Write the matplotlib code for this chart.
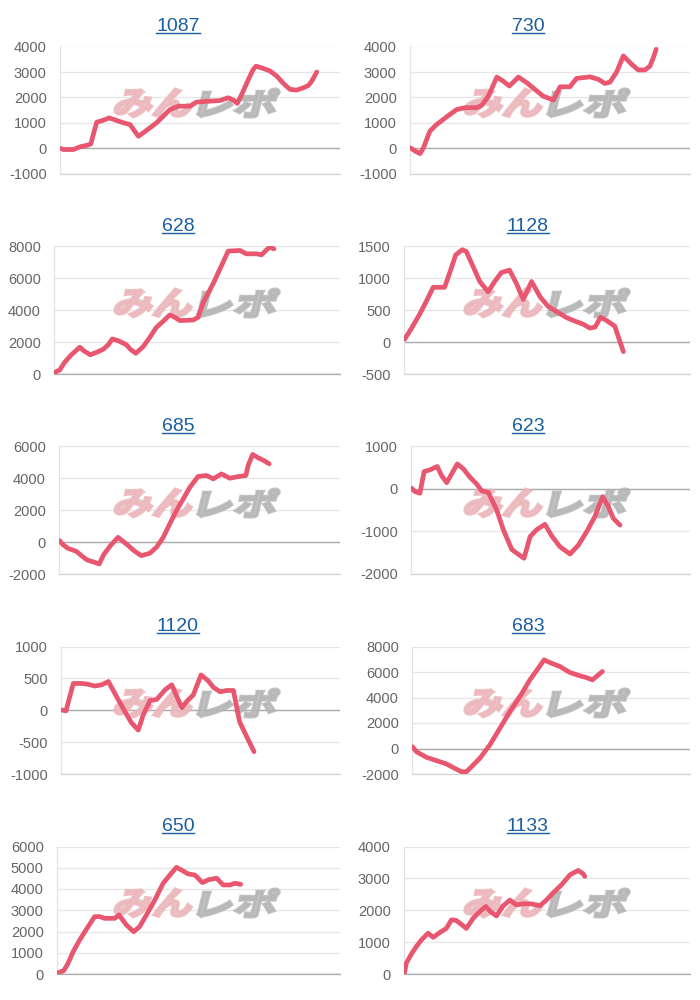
import matplotlib
matplotlib.use('Agg')
import matplotlib.pyplot as plt
from matplotlib.textpath import TextPath
from matplotlib.font_manager import FontProperties
from matplotlib.patches import PathPatch
from matplotlib.transforms import Affine2D
from matplotlib.lines import Line2D

plt.rcParams['font.family'] = ['Liberation Sans', 'DejaVu Sans']
plt.rcParams['axes.unicode_minus'] = False

# chart titles (machine numbers)
titles = ['1087', '730', '628', '1128', '685', '623', '1120', '683', '650', '1133']

# progress along x (0-100) and balance values
x_1087 = [0.2, 1.2, 4.8, 7.1, 9.8, 11.0, 11.9, 13.1, 15.5, 17.6, 20.2, 22.6, 25.0, 26.2, 28.0, 29.8, 32.1,
          34.5, 36.9, 39.3, 42.3, 46.4, 48.8, 52.4, 57.1, 60.1, 61.9, 63.3, 64.9, 67.3, 69.0, 70.0, 72.6,
          75.0, 77.4, 79.8, 82.1, 84.5, 86.9, 88.7, 89.9, 91.7]
y_1087 = [0, -40, -40, 65, 130, 180, 550, 1030, 1110, 1200, 1100, 1010, 940, 750, 480, 620, 810,
          1010, 1270, 1530, 1660, 1660, 1820, 1850, 1880, 1990, 1900, 1770, 2120, 2710, 3100, 3230, 3140,
          3040, 2840, 2550, 2320, 2290, 2380, 2470, 2640, 3000]

x_730 = [0.2, 1.8, 3.6, 4.8, 7.1, 9.5, 11.9, 14.3, 16.7, 19.6, 23.8, 25.6, 28.0, 31.0, 33.3, 35.5, 38.7,
         41.7, 44.6, 47.6, 51.2, 53.6, 57.1, 59.5, 64.3, 67.3, 69.6, 71.4, 73.8, 76.2, 79.2, 81.5, 83.9,
         85.7, 86.9, 87.9]
y_730 = [25, -100, -200, 25, 680, 940, 1140, 1340, 1530, 1600, 1600, 1690, 2050, 2800, 2640, 2450, 2800,
         2580, 2320, 2050, 1900, 2420, 2420, 2750, 2810, 2710, 2550, 2600, 3000, 3630, 3300, 3080, 3080,
         3230, 3560, 3890]

x_628 = [0.2, 2.0, 3.7, 6.1, 9.0, 10.7, 12.7, 14.9, 17.2, 19.0, 20.4, 22.4, 25.3, 26.7, 28.6, 31.2, 33.5,
         35.8, 38.2, 40.5, 42.2, 44.0, 48.7, 50.4, 52.2, 55.6, 58.6, 60.9, 65.0, 67.3, 70.8, 72.6, 74.3,
         75.5, 76.9]
y_628 = [100, 250, 730, 1210, 1680, 1420, 1210, 1360, 1550, 1840, 2200, 2090, 1840, 1550, 1300, 1720, 2300,
         2930, 3310, 3710, 3560, 3350, 3390, 3560, 4500, 5650, 6810, 7710, 7750, 7540, 7540, 7480, 7790,
         7960, 7850]

x_1128 = [0.2, 2.6, 5.5, 7.8, 10.2, 11.9, 14.2, 16.0, 18.1, 20.4, 21.8, 24.1, 26.5, 29.4, 31.7, 34.0, 36.9,
          39.3, 41.7, 44.6, 47.6, 50.4, 53.3, 56.8, 60.3, 62.7, 65.0, 66.8, 68.7, 70.8, 73.7, 75.3, 76.7]
y_1128 = [45, 215, 440, 640, 860, 860, 860, 1090, 1370, 1450, 1420, 1190, 950, 790, 950, 1090, 1130,
          920, 670, 950, 710, 560, 480, 385, 320, 280, 220, 235, 390, 340, 250, 35, -150]

x_685 = [0.2, 1.4, 3.2, 6.2, 8.0, 10.0, 12.7, 14.3, 15.9, 18.3, 21.0, 24.0, 27.0, 29.3, 32.3, 34.7, 37.1,
         39.4, 41.8, 44.2, 46.6, 49.5, 52.5, 54.9, 57.8, 60.8, 64.1, 66.5, 67.3, 68.9, 70.9, 73.3, 74.8]
y_685 = [95, -160, -390, -580, -850, -1120, -1270, -1370, -790, -220, 300, -120, -580, -850, -700, -320, 300,
         1140, 1980, 2710, 3450, 4120, 4180, 3970, 4280, 4010, 4120, 4180, 4810, 5500, 5290, 5080, 4910]

x_623 = [0.2, 1.4, 3.2, 4.7, 6.8, 9.4, 11.0, 12.8, 14.6, 16.6, 18.8, 21.1, 23.5, 25.3, 27.7, 30.7, 33.1,
         36.1, 37.9, 40.5, 42.7, 45.0, 48.0, 50.4, 53.4, 57.0, 60.0, 63.0, 65.9, 68.7, 70.7, 72.5, 74.9]
y_623 = [20, -60, -100, 410, 450, 530, 310, 150, 360, 590, 470, 280, 120, -40, -80, -490, -960,
         -1420, -1510, -1630, -1120, -960, -830, -1100, -1360, -1530, -1320, -1000, -650, -180, -410, -690, -850]

x_1120 = [0.2, 1.8, 3.0, 4.4, 7.4, 9.4, 12.2, 14.6, 17.0, 19.9, 22.9, 25.3, 27.7, 29.5, 31.9, 34.3, 37.3,
          39.7, 41.5, 43.3, 45.0, 47.4, 50.2, 52.8, 54.6, 57.0, 59.4, 61.8, 64.0, 66.5, 69.2]
y_1120 = [5, -10, 190, 420, 420, 410, 380, 400, 450, 215, -20, -200, -310, -70, 150, 170, 320,
          400, 215, 40, 135, 240, 555, 460, 360, 290, 310, 310, -180, -410, -650]

x_683 = [0.1, 1.6, 5.2, 8.8, 12.4, 15.4, 17.8, 19.6, 21.4, 24.4, 28.0, 31.6, 35.2, 38.8, 42.4, 45.4, 47.5,
         49.6, 53.2, 56.8, 60.4, 62.8, 64.9, 67.0, 68.5]
y_683 = [150, -250, -690, -950, -1210, -1560, -1820, -1820, -1430, -770, 280, 1580, 2890, 4070, 5380, 6290, 6950,
         6740, 6430, 5960, 5700, 5560, 5380, 5770, 6040]

x_650 = [0.4, 2.4, 3.9, 5.7, 8.0, 10.6, 13.3, 15.1, 16.8, 20.4, 21.9, 24.5, 27.1, 29.2, 31.6, 34.6, 37.5,
         39.9, 42.2, 44.3, 46.3, 48.7, 51.4, 53.4, 56.4, 58.7, 61.1, 62.9, 64.9]
y_650 = [60, 160, 500, 1050, 1600, 2150, 2700, 2700, 2620, 2620, 2780, 2310, 1990, 2230, 2780, 3490, 4270,
         4660, 5020, 4870, 4710, 4660, 4300, 4430, 4510, 4190, 4190, 4270, 4220]

x_1133 = [0.2, 0.8, 2.6, 4.3, 6.1, 8.4, 10.2, 12.5, 14.8, 16.6, 18.3, 20.7, 21.8, 24.2, 26.5, 28.6, 30.2,
          32.3, 34.7, 37.0, 39.3, 41.7, 44.6, 47.5, 49.8, 52.2, 55.1, 58.0, 60.9, 62.7, 63.2]
y_1133 = [40, 340, 630, 860, 1070, 1280, 1150, 1300, 1430, 1700, 1680, 1510, 1430, 1750, 1960, 2120, 1960,
          1820, 2140, 2320, 2170, 2200, 2200, 2140, 2320, 2550, 2800, 3110, 3250, 3140, 3060]

xs = [x_1087, x_730, x_628, x_1128, x_685, x_623, x_1120, x_683, x_650, x_1133]
ys = [y_1087, y_730, y_628, y_1128, y_685, y_623, y_1120, y_683, y_650, y_1133]

y_min = [-1000, -1000, 0, -500, -2000, -2000, -1000, -2000, 0, 0]
y_max = [4000, 4000, 8000, 1500, 6000, 1000, 1000, 8000, 6000, 4000]
y_step = [1000, 1000, 2000, 500, 2000, 1000, 500, 2000, 1000, 1000]

# left edge of each plot area inside its 350 px panel
left_px = [60, 60, 54, 54, 59, 61, 61, 62, 57, 54]

W, H = 700, 1000
LINE = '#e8566f'
BLUE = '#1b5e9e'

fig = plt.figure(figsize=(7, 10), dpi=100)
fp = FontProperties(family='Noto Sans CJK JP', weight='bold')


def logo(ax, px, py, w, h, s, color):
    # watermark text stretched into a pixel box, slanted
    tp = TextPath((0, 0), s, size=1, prop=fp)
    bb = tp.get_extents()
    tr = (Affine2D().translate(-bb.x0, -bb.y0).scale(w / bb.width, h / bb.height)
          .skew_deg(14, 0).translate(px, H - py - h).scale(1 / W, 1 / H))
    ax.add_patch(PathPatch(tp, transform=tr + fig.transFigure, facecolor=color,
                           edgecolor=color, lw=2.2, joinstyle='miter', zorder=1.5,
                           clip_on=False, alpha=0.85))


titles_txt = []
for i, name in enumerate(titles):
    r, c = divmod(i, 2)
    x0 = c * 350 + left_px[i]
    x1 = c * 350 + 340
    top = r * 200 + 46.5
    bot = r * 200 + 174
    ax = fig.add_axes([x0 / W, 1 - bot / H, (x1 - x0) / W, (bot - top) / H])

    ax.plot(xs[i], ys[i], color=LINE, lw=3.4, solid_joinstyle='round',
            solid_capstyle='round', zorder=3)

    ax.set_xlim(0, 100)
    ax.set_ylim(y_min[i], y_max[i])
    ax.set_yticks(range(y_min[i], y_max[i] + 1, y_step[i]))
    ax.set_xticks([])
    ax.tick_params(axis='y', length=0, pad=9.5, labelsize=10.5, labelcolor='#666666')
    ax.yaxis.grid(True, color='#e6e6e6', lw=0.9)
    ax.set_axisbelow(True)
    ax.axhline(0, color='#ababab', lw=1.0, zorder=1)
    for s in ['top', 'right']:
        ax.spines[s].set_visible(False)
    ax.spines['left'].set_color('#e3e3e3')
    ax.spines['bottom'].set_color('#ababab' if y_min[i] == 0 else '#d4d4d4')
    ax.spines['left'].set_linewidth(0.9)
    ax.spines['bottom'].set_linewidth(0.9)

    logo(ax, c * 350 + 113, r * 200 + 89, 76, 28, 'みん', '#ebb6bb')
    logo(ax, c * 350 + 197, r * 200 + 89, 76, 28, 'レポ', '#b5b5b5')

    t = fig.text((c * 350 + 178) / W, 1 - (r * 200 + 31) / H, name, ha='center',
                 va='baseline', fontsize=14, color=BLUE)
    titles_txt.append((t, r))

fig.canvas.draw()
for t, r in titles_txt:
    bb = t.get_window_extent()
    yy = 1 - (r * 200 + 33) / H
    fig.add_artist(Line2D([bb.x0 / W, bb.x1 / W], [yy, yy], transform=fig.transFigure,
                          color=BLUE, lw=1.0))

fig.savefig('out.png', dpi=100)
